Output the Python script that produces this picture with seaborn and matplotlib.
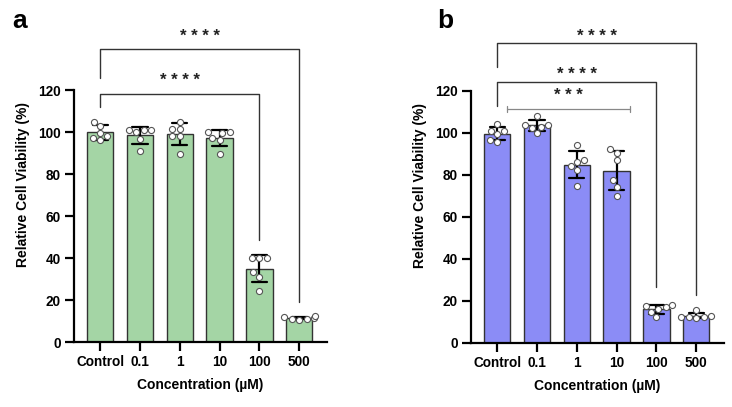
import pandas as pd
import matplotlib
matplotlib.use("Agg")
import matplotlib.pyplot as plt
import seaborn as sns

# Data (6 replicates per concentration)
categories = ["Control", "0.1", "1", "10", "100", "500"]

panel_a_values = {
    "Control": [99.7, 96.2, 103.2, 105.1, 98.0, 97.3],
    "0.1": [101.0, 100.0, 101.0, 101.0, 91.0, 97.0],
    "1": [105.1, 101.6, 101.6, 98.1, 98.1, 89.8],
    "10": [100.0, 99.7, 100.0, 97.3, 96.5, 89.8],
    "100": [40.2, 40.2, 40.2, 31.1, 33.2, 24.5],
    "500": [11.4, 12.6, 11.8, 11.0, 10.6, 11.2],
}

panel_b_values = {
    "Control": [101.1, 95.9, 101.1, 99.4, 104.1, 96.7],
    "0.1": [108.2, 104.0, 102.5, 104.0, 103.0, 100.0],
    "1": [94.5, 84.3, 87.1, 86.3, 82.2, 74.8],
    "10": [92.5, 90.5, 87.0, 77.5, 74.5, 70.0],
    "100": [17.5, 18.0, 17.0, 15.0, 12.5, 16.0],
    "500": [15.5, 13.0, 12.5, 12.0, 12.5, 12.5],
}

# significance brackets: (start group, end group, label)
brackets_a = [("Control", "100", "* * * *"), ("Control", "500", "* * * *")]
brackets_b = [("Control", "100", "* * * *"), ("Control", "500", "* * * *")]
bracket_b_small = ("0.1", "10", "* * *")

green = "#a4d5a5"
purple = "#8b8cf6"

sns.set_style("ticks")
plt.rcParams["font.family"] = ["Liberation Sans", "DejaVu Sans"]
plt.rcParams["font.weight"] = "bold"
plt.rcParams["text.color"] = "black"
plt.rcParams["axes.labelcolor"] = "black"
plt.rcParams["xtick.color"] = "black"
plt.rcParams["ytick.color"] = "black"


def to_long(values):
    rows = []
    for c in categories:
        for v in values[c]:
            rows.append({"conc": c, "viability": v})
    return pd.DataFrame(rows)


def draw_panel(ax, values, color):
    df = to_long(values)
    sns.barplot(data=df, x="conc", y="viability", order=categories, color=color,
                saturation=1, errorbar="sd", capsize=0.38, width=0.66,
                edgecolor="#333333", linewidth=1.0,
                err_kws={"color": "black", "linewidth": 1.6}, ax=ax)
    sns.swarmplot(data=df, x="conc", y="viability", order=categories,
                  color="white", edgecolor="#555555", linewidth=0.8, size=4.4,
                  ax=ax, zorder=4)
    ax.set_ylim(0, 150)
    ax.set_xlim(-0.66, 5.7)
    ax.set_yticks(range(0, 121, 20))
    ax.spines["left"].set_bounds(0, 120)
    ax.spines["top"].set_visible(False)
    ax.spines["right"].set_visible(False)
    for s in ["left", "bottom"]:
        ax.spines[s].set_linewidth(1.6)
        ax.spines[s].set_color("black")
    ax.tick_params(axis="both", length=6.5, width=1.6, labelsize=9.8, pad=3,
                   color="black", labelcolor="black")
    for lab in ax.get_xticklabels() + ax.get_yticklabels():
        lab.set_fontweight("bold")
    ax.set_xlabel("Concentration (µM)", fontsize=10, fontweight="bold", labelpad=6)
    ax.set_ylabel("Relative Cell Viability (%)", fontsize=10, fontweight="bold", labelpad=6)


def bracket(ax, g1, g2, y, y1, y2, label, ty, color="#333333"):
    x1 = categories.index(g1)
    x2 = categories.index(g2)
    ax.plot([x1, x1, x2, x2], [y1, y, y, y2], color=color, linewidth=1.0,
            clip_on=False, zorder=5)
    ax.text((x1 + x2) / 2, ty, label, ha="center", va="center", fontsize=12,
            fontweight="bold", color="#222222")


fig = plt.figure(figsize=(7.32, 4.07), dpi=100)
ax_a = fig.add_axes([74 / 732, 1 - 342 / 407, (327 - 74) / 732, 314.6 / 407])
ax_b = fig.add_axes([471 / 732, 1 - 343 / 407, (724 - 471) / 732, 315 / 407])

draw_panel(ax_a, panel_a_values, green)
draw_panel(ax_b, panel_b_values, purple)

# panel a brackets
bracket(ax_a, *brackets_a[0][:2], 118.3, 112, 48.6, brackets_a[0][2], 124.5)
bracket(ax_a, *brackets_a[1][:2], 139.6, 126, 19.2, brackets_a[1][2], 145.5)

# panel b brackets
bracket(ax_b, *brackets_b[0][:2], 124.4, 112.9, 26.8, brackets_b[0][2], 127.8)
bracket(ax_b, *brackets_b[1][:2], 143.0, 131.6, 22.9, brackets_b[1][2], 146.0)

# thin grey bracket with end caps between 0.1 and 10
xs = categories.index(bracket_b_small[0]) - 0.75
xe = categories.index(bracket_b_small[1]) + 0.33
ax_b.plot([xs, xe], [111.4, 111.4], color="#888888", linewidth=0.9, clip_on=False)
ax_b.plot([xs, xs], [109.8, 113.0], color="#888888", linewidth=0.9, clip_on=False)
ax_b.plot([xe, xe], [109.8, 113.0], color="#888888", linewidth=0.9, clip_on=False)
ax_b.text((xs + xe) / 2, 117.8, bracket_b_small[2], ha="center", va="center",
          fontsize=12, fontweight="bold", color="#222222")

fig.text(12 / 732, 1 - 28 / 407, "a", fontsize=19, fontweight="bold", va="baseline")
fig.text(437 / 732, 1 - 28 / 407, "b", fontsize=19, fontweight="bold", va="baseline")

fig.savefig("out.png", dpi=100)
